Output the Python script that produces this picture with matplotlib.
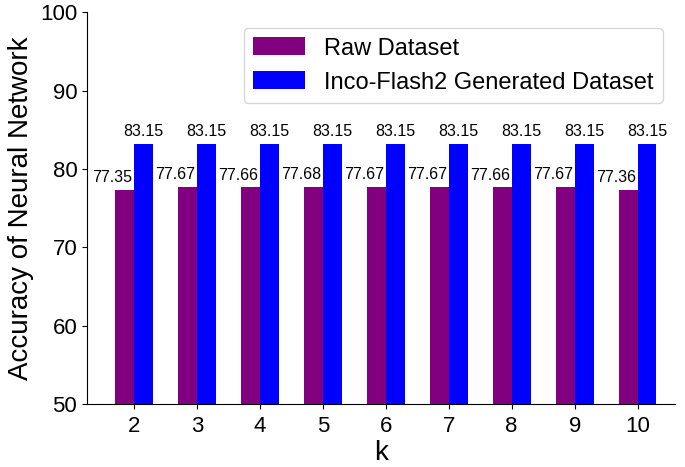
import numpy as np
import matplotlib.pyplot as plt

plt.rcParams['font.family'] = ['Liberation Sans', 'DejaVu Sans']

k = [2, 3, 4, 5, 6, 7, 8, 9, 10]
raw = [77.35, 77.67, 77.66, 77.68, 77.67, 77.67, 77.66, 77.67, 77.36]
inco = [83.15, 83.15, 83.15, 83.15, 83.15, 83.15, 83.15, 83.15, 83.15]

x = np.array(k, dtype=float)
w = 0.30

fig, ax = plt.subplots(figsize=(6.85, 4.67), dpi=100)
fig.subplots_adjust(left=0.127, right=0.985, top=0.974, bottom=0.135)

ax.bar(x - w / 2, raw, w, color='purple', label='Raw Dataset')
ax.bar(x + w / 2, inco, w, color='blue', label='Inco-Flash2 Generated Dataset')

for xi, r, b in zip(x, raw, inco):
    ax.text(xi - w / 2 - 0.19, r + 0.6, f'{r:.2f}', ha='center', va='bottom', fontsize=11.5)
    ax.text(xi + w / 2, b + 0.6, f'{b:.2f}', ha='center', va='bottom', fontsize=11.5)

ax.set_ylim(50, 100)
ax.set_xlim(1.254, 10.59)
ax.set_xticks(x)
ax.set_xticklabels([str(v) for v in k])
ax.set_yticks([50, 60, 70, 80, 90, 100])
ax.tick_params(labelsize=16)
ax.tick_params(axis='x', pad=5)
ax.set_xlabel('k', fontsize=20, labelpad=2)
ax.set_ylabel('Accuracy of Neural Network', fontsize=20, labelpad=4)
ax.spines['top'].set_visible(False)
ax.spines['right'].set_visible(False)
ax.legend(fontsize=17, loc='upper right', bbox_to_anchor=(1.0, 0.99), handlelength=2.2, handleheight=0.8)

fig.savefig('out.png', dpi=100)
